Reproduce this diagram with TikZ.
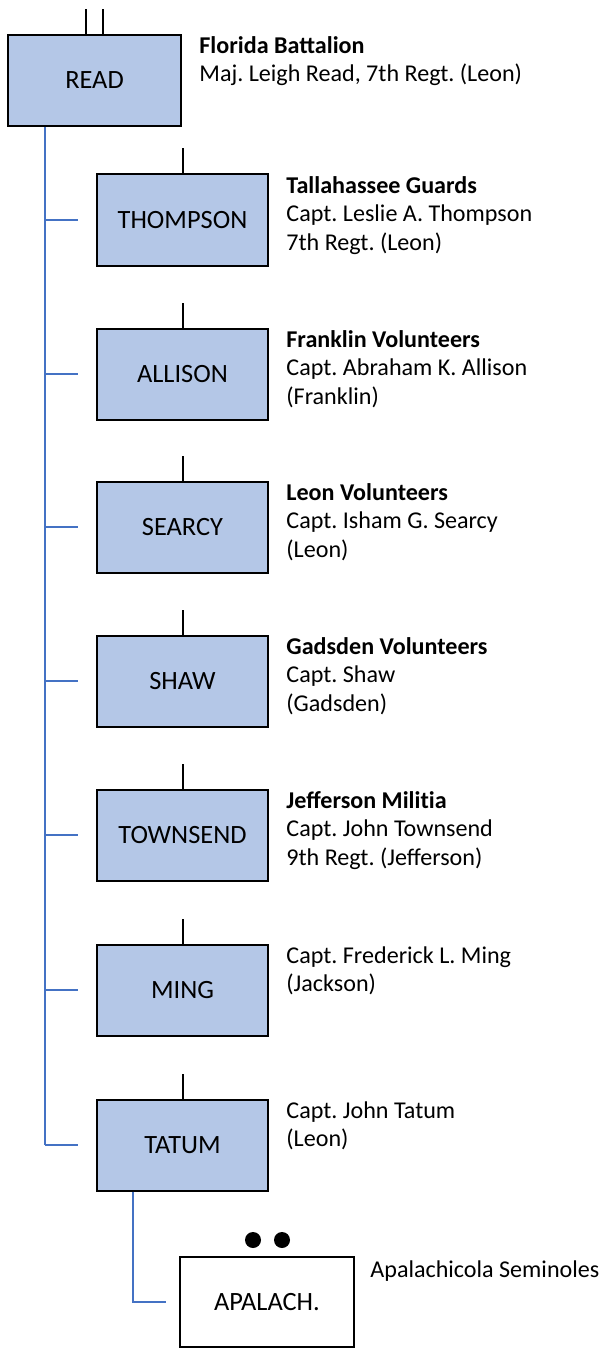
\documentclass[tikz,border=0pt]{standalone}
\usepackage{fontspec}
\setmainfont{Carlito}
\frenchspacing
\definecolor{unitfill}{HTML}{B4C7E7}
\definecolor{linkblue}{HTML}{4472C4}
\begin{document}
\begin{tikzpicture}[x=0.5pt,y=-0.5pt,
  every node/.style={font=\fontsize{12.05}{14.25}\selectfont},
  unitbox/.style={draw=black, line width=1pt, fill=unitfill, minimum width=85.5pt, minimum height=45.5pt, inner sep=0pt, font=\fontsize{13.2}{15}\selectfont},
  plainbox/.style={draw=black, line width=1pt, fill=white, minimum width=87pt, minimum height=45pt, inner sep=0pt, font=\fontsize{13.2}{15}\selectfont},
  info/.style={anchor=north west, inner sep=0pt, align=left},
  link/.style={draw=linkblue, line width=1pt},
  tick/.style={draw=black, line width=1pt}]
\useasboundingbox (0,0) rectangle (603,1348);

% battalion commander
\node[unitbox, minimum width=86.5pt] (read) at (94.5,80.5) {READ};
\node[info] (readinfo) at (199,33) {\strut\textbf{Florida Battalion}\\Maj. Leigh Read, 7th Regt. (Leon)};
\draw[tick] ([xshift=-4.25pt]read.north) -- ++(0,-25);
\draw[tick] ([xshift=4.25pt]read.north) -- ++(0,-25);

% companies
\node[unitbox] (thompson) at (182.5,220) {THOMPSON};
\node[unitbox] (allison)  at (182.5,374) {ALLISON};
\node[unitbox] (searcy)   at (182.5,527) {SEARCY};
\node[unitbox] (shaw)     at (182.5,681) {SHAW};
\node[unitbox] (townsend) at (182.5,835) {TOWNSEND};
\node[unitbox] (ming)     at (182.5,990) {MING};
\node[unitbox] (tatum)    at (182.5,1145) {TATUM};

\node[info] (thompsoninfo) at (286,173) {\strut\textbf{Tallahassee Guards}\\Capt. Leslie A. Thompson\\7th Regt. (Leon)};
\node[info] (allisoninfo)  at (286,327) {\strut\textbf{Franklin Volunteers}\\Capt. Abraham K. Allison\\(Franklin)};
\node[info] (searcyinfo)   at (286,480) {\strut\textbf{Leon Volunteers}\\Capt. Isham G. Searcy\\(Leon)};
\node[info] (shawinfo)     at (286,634) {\strut\textbf{Gadsden Volunteers}\\Capt. Shaw\\(Gadsden)};
\node[info] (townsendinfo) at (286,788) {\strut\textbf{Jefferson Milit\kern0pt ia}\\Capt. John Townsend\\9th Regt. (Jefferson)};
\node[info] (minginfo)     at (286,943) {\strut Capt. Frederick L. Ming\\(Jackson)};
\node[info] (tatuminfo)    at (286,1098) {\strut Capt. John Tatum\\(Leon)};

% command trunk and branches
\coordinate (trunk) at (45,0);
\draw[link] (trunk |- read.south) -- (trunk |- tatum.center);
\foreach \u in {thompson,allison,searcy,shaw,townsend,ming,tatum}{
  \draw[link] (trunk |- \u.center) -- ([xshift=-9pt]\u.west);
  \draw[tick] (\u.north) -- ++(0,-25);
}

% attached band
\node[plainbox] (apalach) at (267,1302) {APALACH.};
\node[anchor=base west, inner sep=0pt] (apalachinfo) at (370,1277) {Apalachicola Seminoles};
\coordinate (tatumfoot) at (133,0);
\draw[link] (tatumfoot |- tatum.south) -- (tatumfoot |- apalach.center) -- ([xshift=-6.5pt]apalach.west);
\fill (253,1240) circle (4pt);
\fill (282,1240) circle (4pt);
\end{tikzpicture}
\end{document}
